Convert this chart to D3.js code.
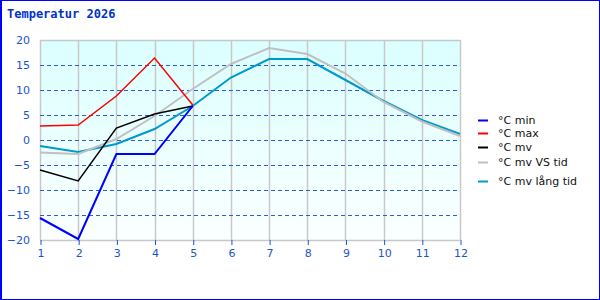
<!DOCTYPE html>
<html>
<head>
<meta charset="utf-8">
<script src="https://cdn.jsdelivr.net/npm/d3@7"></script>
<style>
  html, body { margin: 0; padding: 0; background: #fff; }
  svg { display: block; }
</style>
</head>
<body>
<div id="chart"></div>
<script>
// Monthly temperatures
const months = [1, 2, 3, 4, 5, 6, 7, 8, 9, 10, 11, 12];
const tMin   = [-15.6, -19.8, -2.8, -2.8, 6.8];
const tMax   = [2.8, 3.0, 8.8, 16.4, 7.0];
const tMv    = [-6.0, -8.2, 2.4, 5.2, 6.8];
const tMvVS  = [-2.5, -2.8, 0.2, 4.8, 10.2, 15.2, 18.4, 17.2, 13.3, 7.6, 3.7, 0.8];
const tMvLng = [-1.2, -2.4, -0.8, 2.2, 6.8, 12.5, 16.2, 16.2, 12.0, 7.8, 4.0, 1.2];
const yTicks = [-20, -15, -10, -5, 0, 5, 10, 15, 20];

const series = [
  { name: '°C min',         values: tMin,   color: '#0000ff', width: 2 },
  { name: '°C max',         values: tMax,   color: '#ff0000', width: 1.5 },
  { name: '°C mv',          values: tMv,    color: '#000000', width: 1.5 },
  { name: '°C mv VS tid',   values: tMvVS,  color: '#c0c0c0', width: 2 },
  { name: '°C mv lång tid', values: tMvLng, color: '#0099cc', width: 2 }
];

const W = 600, H = 300;
const plot = { left: 40, right: 460, top: 40, bottom: 240 };
const axisBlue = '#1a55cc';

const svg = d3.select('#chart').append('svg')
  .attr('width', W).attr('height', H);

// background gradient for plot area
const grad = svg.append('defs').append('linearGradient')
  .attr('id', 'bg').attr('x1', 0).attr('y1', 0).attr('x2', 0).attr('y2', 1);
grad.append('stop').attr('offset', '0%').attr('stop-color', '#dbffff');
grad.append('stop').attr('offset', '100%').attr('stop-color', '#fbffff');

const x = d3.scaleLinear().domain([1, 12]).range([plot.left, plot.right]);
const y = d3.scaleLinear().domain([-20, 20]).range([plot.bottom, plot.top]);

svg.append('rect')
  .attr('x', plot.left).attr('y', plot.top)
  .attr('width', plot.right - plot.left).attr('height', plot.bottom - plot.top)
  .attr('fill', 'url(#bg)');

// vertical grid
svg.append('g').selectAll('line').data(months).join('line')
  .attr('x1', d => Math.round(x(d)) + 0.5).attr('x2', d => Math.round(x(d)) + 0.5)
  .attr('y1', plot.top).attr('y2', plot.bottom)
  .attr('stroke', '#c8c8c8').attr('stroke-width', 1.5);

// horizontal dashed grid
svg.append('g').selectAll('line').data(yTicks.filter(d => d > -20 && d < 20)).join('line')
  .attr('x1', plot.left).attr('x2', plot.right)
  .attr('y1', d => Math.round(y(d)) + 0.5).attr('y2', d => Math.round(y(d)) + 0.5)
  .attr('stroke', '#2a5fd0').attr('stroke-width', 1).attr('stroke-dasharray', '4,3');

// top & bottom borders
[20, -20].forEach(v => {
  svg.append('line')
    .attr('x1', plot.left).attr('x2', plot.right)
    .attr('y1', Math.round(y(v)) + 0.5).attr('y2', Math.round(y(v)) + 0.5)
    .attr('stroke', '#c8c8c8').attr('stroke-width', 1.5);
});

// x axis
const xAxis = svg.append('g')
  .attr('transform', `translate(0.5,${plot.bottom})`)
  .call(d3.axisBottom(x).tickValues(months).tickSize(5).tickSizeOuter(0).tickFormat(d3.format('d')));
xAxis.select('.domain').remove();
xAxis.selectAll('.tick line').attr('stroke', axisBlue);
xAxis.selectAll('.tick text')
  .attr('fill', axisBlue).attr('font-family', 'DejaVu Sans').attr('font-size', 11).attr('dy', '0.85em');

// y axis labels
const yAxis = svg.append('g')
  .attr('transform', `translate(${plot.left},0)`)
  .call(d3.axisLeft(y).tickValues(yTicks).tickSize(0).tickPadding(10));
yAxis.select('.domain').remove();
yAxis.selectAll('.tick text')
  .attr('fill', axisBlue).attr('font-family', 'DejaVu Sans').attr('font-size', 11);

// series lines
const line = d3.line().x((d, i) => x(months[i])).y(d => y(d));
svg.append('g').selectAll('path').data(series.slice().reverse()).join('path')
  .attr('d', s => line(s.values))
  .attr('fill', 'none')
  .attr('stroke', s => s.color)
  .attr('stroke-width', s => s.width);

// legend
const legendY = [120, 133, 147, 162, 181];
const legend = svg.append('g').selectAll('g').data(series).join('g')
  .attr('transform', (s, i) => `translate(478,${legendY[i]})`);
legend.append('line')
  .attr('x1', 0).attr('x2', 10).attr('y1', 0.5).attr('y2', 0.5)
  .attr('stroke', s => s.color).attr('stroke-width', 2);
legend.append('text')
  .attr('x', 20).attr('y', 0).attr('dy', '0.35em')
  .attr('font-family', 'DejaVu Sans').attr('font-size', 11).attr('fill', '#111')
  .text(s => s.name);

// title
svg.append('text')
  .attr('x', 7).attr('y', 18)
  .attr('font-family', 'DejaVu Sans Mono').attr('font-weight', 'bold').attr('font-size', 12)
  .attr('fill', '#0033cc')
  .text('Temperatur 2026');

// frame
svg.append('rect')
  .attr('x', 0.5).attr('y', 0.5).attr('width', W - 1).attr('height', H - 1)
  .attr('fill', 'none').attr('stroke', '#0000ff').attr('stroke-width', 1);
svg.append('line')
  .attr('x1', 1.5).attr('x2', 1.5).attr('y1', 0).attr('y2', H)
  .attr('stroke', '#0000ff');
</script>
</body>
</html>
